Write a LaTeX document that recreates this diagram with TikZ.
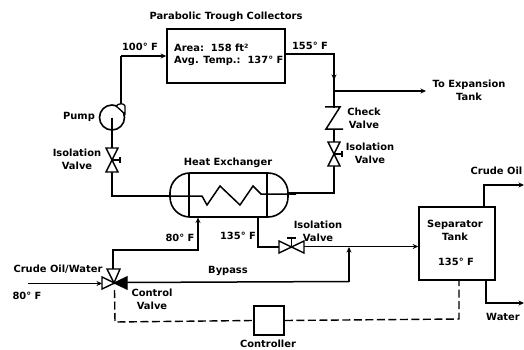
\documentclass[tikz,border=0pt]{standalone}
\usepackage{fontspec}
\setmainfont{DejaVu Sans}
\usetikzlibrary{arrows.meta}
\tikzset{
 x=1pt,y=-1pt,
 pipe/.style={line width=1.5pt,black},
 flow/.style={pipe,-{Stealth[length=5.5pt,width=5pt]}},
 sig/.style={line width=1.4pt,dash pattern=on 8pt off 3.5pt},
 box/.style={draw,line width=1.6pt,inner sep=0pt},
 lab/.style={font=\bfseries\fontsize{9.9}{13}\selectfont,align=center,inner sep=0pt},
 valvebody/.style={line width=1.4pt,fill=white},
}
\newcommand{\vvalve}[2]{%
 \draw[valvebody] (#1-6,#2-12) -- (#1+6,#2-12) -- (#1-6,#2+12) -- (#1+6,#2+12) -- cycle;
 \draw[line width=1.3pt] (#1,#2) -- (#1+8,#2);
 \draw[line width=1.3pt] (#1+8,#2-3) -- (#1+8,#2+3);
}
\begin{document}
\begin{tikzpicture}
\useasboundingbox (0,0) rectangle (524,350);
% nodes
\node[box,minimum width=118pt,minimum height=54pt] (coll) at (226,56) {};
\node[lab,anchor=west] (area) at (174,48) {Area:\ \ 158 ft²};
\node[lab,anchor=west] (temp) at (174,61) {Avg. Temp.:\ \ 137° F};
\node[lab] (title) at (226,17) {Parabolic Trough Collectors};
\node[lab] (tank) at (469,90.5) {To Expansion\\Tank};
\coordinate (tankin) at (426,91);
\coordinate (tee) at (334,91);
\coordinate (top) at (334,54);
\coordinate (elbow) at (121,56);
\node[draw,circle,line width=1.6pt,minimum size=25pt,inner sep=0pt] (pump) at (112,117.5) {};
\node[box,minimum width=76pt,minimum height=73pt] (sep) at (457,243.5) {};
\node[lab] (septxt) at (455,230.5) {Separator\\Tank};
\node[lab] (septemp) at (456,262) {135° F};
\node[box,minimum width=30pt,minimum height=29pt] (ctrl) at (269,320.5) {};
\node[lab] (ctrltxt) at (268,343.5) {Controller};
\node[lab] (pumptxt) at (79,117) {Pump};
\node[lab] (iso1) at (77,159.5) {Isolation\\Valve};
\node[lab] (t100) at (140,47) {100° F};
\node[lab] (t155) at (310,46) {155° F};
\node[lab] (chk) at (364,118.5) {Check\\Valve};
\node[lab] (iso2) at (370,153.5) {Isolation\\Valve};
\node[lab] (hx) at (228,163) {Heat Exchanger};
\node[lab] (t80) at (180,238) {80° F};
\node[lab] (t135) at (238,236) {135° F};
\node[lab] (iso3) at (318,231) {Isolation\\Valve};
\node[lab] (crude) at (58,269) {Crude Oil/Water};
\node[lab] (t80b) at (27,296) {80° F};
\node[lab] (cv) at (152,299.5) {Control\\Valve};
\node[lab] (byp) at (228,271) {Bypass};
\node[lab,anchor=east] (co) at (522.5,171) {Crude Oil};
\node[lab] (wat) at (503,317) {Water};
% upper loop
\draw[pipe] (121,104) -- (elbow);
\draw[flow] (elbow) -- (coll.west |- elbow);
\draw[line width=1.3pt,fill=white] (116,106) .. controls (119,103) and (124,103) .. (125,106) -- (125,114) -- cycle;
\draw[line width=1.2pt] (pump.center) -- (112,148);
\draw[pipe] (112,172) -- (112,196) -- (170,196);
\draw[pipe] (coll.east |- top) -- (top) -- (334,108);
\draw[flow] (top) -- (334,80);
\draw[flow] (tee) -- (tankin);
\draw[pipe] (325,107) -- (340,107) -- (326,129) -- (343,129);
\draw[pipe] (334,129) -- (334,142);
\draw[pipe] (334,166) -- (334,193) -- (288,193);
% heat exchanger
\draw[line width=1.6pt,fill=white,rounded corners=20pt] (170,173) rectangle (288,217);
\draw[line width=1.2pt] (189,173) -- (189,217);
\draw[line width=1.2pt] (267,173) -- (267,217);
\draw[pipe] (160,196) -- (202,196) -- (207,205) -- (220,186) -- (240,205) -- (253,186) -- (261,194) -- (296,194);
% crude line
\draw[flow] (28,283.5) -- (102,283.5);
\draw[flow] (113,270) -- (113,250) -- (198,250) -- (198,217.5);
\draw[pipe] (258,217) -- (258,247) -- (279,247);
\draw[flow] (304,246.5) -- (sep.west |- 0,246.5);
\draw[pipe] (124,282.5) -- (349,281.5);
\draw[flow] (349,281.5) -- (349,247);
% control valve
\draw[valvebody] (102,277) -- (127,289) -- (127,277) -- (102,289) -- cycle;
\draw[valvebody] (107,269) -- (120,269) -- (114,283) -- cycle;
\fill (114,283) -- (127,277) -- (127,289) -- cycle;
% isolation valves
\vvalve{112}{160}
\vvalve{334}{154}
\draw[valvebody] (279,241) -- (304,253) -- (304,241) -- (279,253) -- cycle;
\draw[line width=1.3pt] (291.5,247) -- (291.5,238) (287,238) -- (296,238);
% outlets
\draw[flow] (484,207) -- (484,185) -- (524,185);
\draw[flow] (486,280) -- (486,303) -- (524,303);
% signal
\draw[sig] (114.5,290) -- (115,322) -- (ctrl.west);
\draw[sig] (ctrl.east) -- (459,319) -- (459,281);
\end{tikzpicture}
\end{document}
